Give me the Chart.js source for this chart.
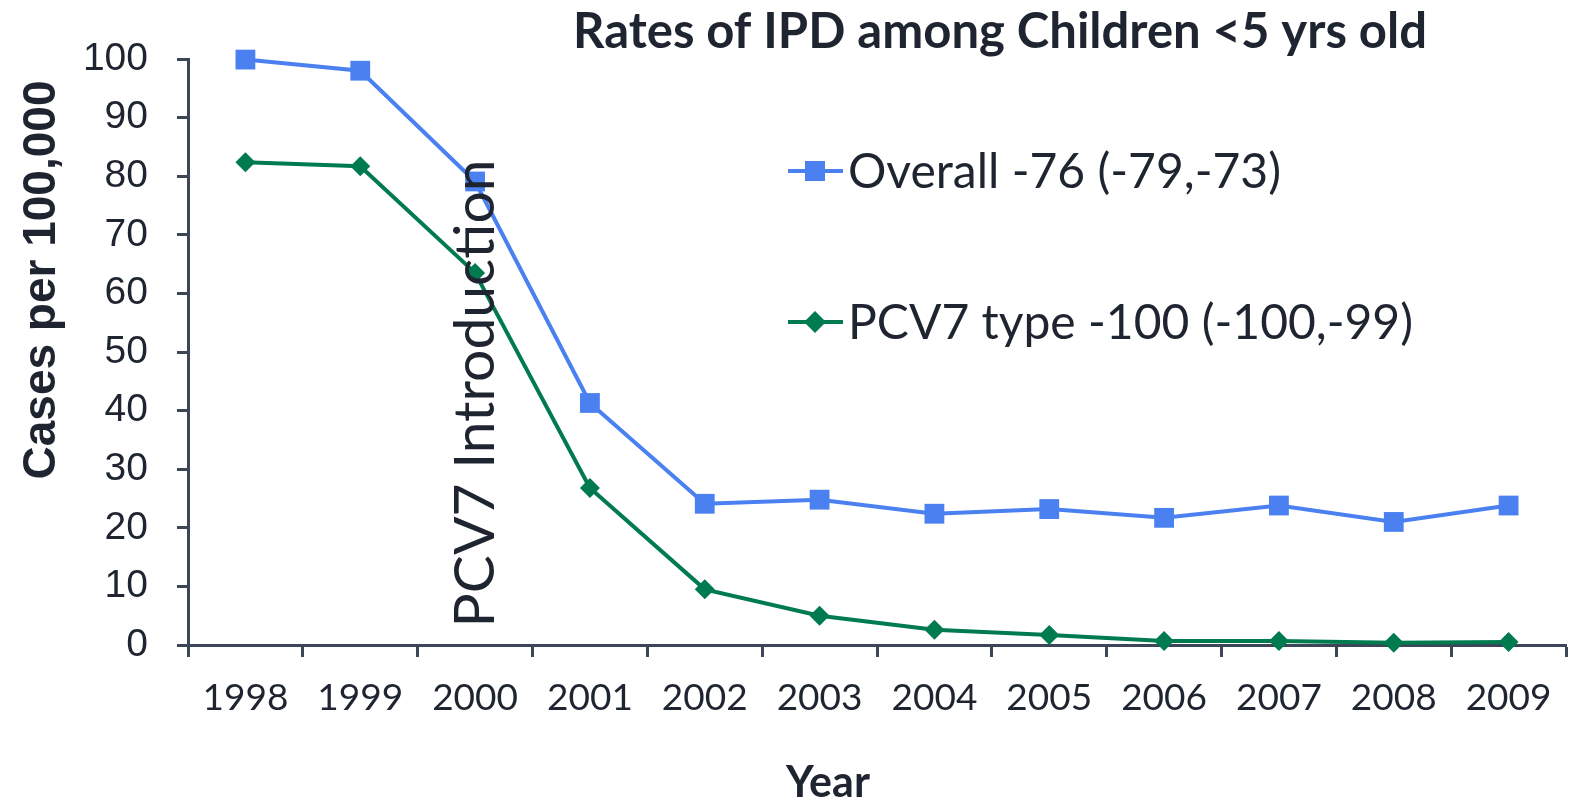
<!DOCTYPE html>
<html>
<head>
<meta charset="utf-8">
<title>Rates of IPD among Children &lt;5 yrs old</title>
<script src="https://cdn.jsdelivr.net/npm/chart.js"></script>
<style>
  html, body { margin: 0; padding: 0; background: #fff; }
  #wrap { width: 1580px; height: 804px; position: relative; }
</style>
</head>
<body>
<div id="wrap"><canvas id="ipdChart"></canvas></div>
<script>
// Data
const years = ['1998', '1999', '2000', '2001', '2002', '2003', '2004', '2005', '2006', '2007', '2008', '2009'];
const overall = [99.9, 98.0, 79.1, 41.3, 24.1, 24.8, 22.4, 23.2, 21.7, 23.8, 21.0, 23.8];
const pcv7 = [82.4, 81.7, 63.5, 26.8, 9.5, 5.0, 2.6, 1.7, 0.7, 0.7, 0.4, 0.5];
const seriesLabels = ['Overall -76 (-79,-73)', 'PCV7 type -100 (-100,-99)'];
const yTicks = [0, 10, 20, 30, 40, 50, 60, 70, 80, 90, 100];

const BLUE = '#4a80f0';
const GREEN = '#007a4f';
const TEXT = '#1f2530';
const AXIS = '#3c4657';

// Title, axis titles, legend and the PCV7 note are painted here
const textPlugin = {
    id: 'textPlugin',
    afterDraw(chart) {
        const ctx = chart.ctx;
        const x = chart.scales.x;
        const y = chart.scales.y;
        ctx.save();
        ctx.fillStyle = TEXT;

        // title
        ctx.font = 'bold 49px Lato';
        ctx.textAlign = 'center';
        ctx.textBaseline = 'alphabetic';
        ctx.fillText('Rates of IPD among Children <5 yrs old', 1000, 48);

        // x axis title
        ctx.font = 'bold 43px Lato';
        ctx.fillText('Year', 828, 797);

        // y axis title
        ctx.save();
        ctx.translate(55, 280);
        ctx.rotate(-Math.PI / 2);
        ctx.font = 'bold 46px "Liberation Sans"';
        ctx.textAlign = 'center';
        ctx.fillText('Cases per 100,000', 0, 0);
        ctx.restore();

        // PCV7 introduction note
        ctx.save();
        ctx.translate(x.getPixelForValue(2) + 19, y.getPixelForValue(3.0));
        ctx.rotate(-Math.PI / 2);
        ctx.font = '57px Lato';
        ctx.textAlign = 'left';
        ctx.fillText('PCV7 Introduction', 0, 0);
        ctx.restore();

        // legend
        const rows = [171, 322];
        chart.data.datasets.forEach((ds, i) => {
            const cy = rows[i];
            ctx.strokeStyle = ds.borderColor;
            ctx.lineWidth = 4;
            ctx.beginPath();
            ctx.moveTo(788, cy);
            ctx.lineTo(843, cy);
            ctx.stroke();
            ctx.fillStyle = ds.pointBackgroundColor;
            ctx.beginPath();
            if (ds.pointStyle === 'rect') {
                ctx.rect(805, cy - 10, 20, 20);
            } else {
                ctx.moveTo(815, cy - 11);
                ctx.lineTo(826, cy);
                ctx.lineTo(815, cy + 11);
                ctx.lineTo(804, cy);
                ctx.closePath();
            }
            ctx.fill();
            ctx.fillStyle = TEXT;
            ctx.font = '48px Lato';
            ctx.textAlign = 'left';
            ctx.textBaseline = 'middle';
            ctx.fillText(ds.label, 848, cy + 2);
        });
        ctx.restore();
    }
};

new Chart(document.getElementById('ipdChart'), {
    type: 'line',
    data: {
        labels: years,
        datasets: [
            {
                label: seriesLabels[0],
                data: overall,
                borderColor: BLUE,
                backgroundColor: BLUE,
                pointBackgroundColor: BLUE,
                pointBorderColor: BLUE,
                borderWidth: 4,
                pointStyle: 'rect',
                pointRadius: 14,
                pointBorderWidth: 0,
                tension: 0,
                clip: false
            },
            {
                label: seriesLabels[1],
                data: pcv7,
                borderColor: GREEN,
                backgroundColor: GREEN,
                pointBackgroundColor: GREEN,
                pointBorderColor: GREEN,
                borderWidth: 4,
                pointStyle: 'rectRot',
                pointRadius: 10,
                pointBorderWidth: 0,
                tension: 0,
                clip: false
            }
        ]
    },
    options: {
        responsive: true,
        maintainAspectRatio: false,
        animation: false,
        layout: { padding: { top: 59, right: 6, left: 0, bottom: 0 } },
        plugins: {
            legend: { display: false },
            title: { display: false },
            tooltip: { enabled: false }
        },
        scales: {
            x: {
                type: 'category',
                offset: true,
                afterFit(scale) { scale.height = 159; },
                grid: {
                    offset: true,
                    drawOnChartArea: false,
                    drawTicks: true,
                    tickLength: 12,
                    tickWidth: 3,
                    tickColor: AXIS
                },
                border: { display: true, color: AXIS, width: 3 },
                ticks: {
                    color: TEXT,
                    padding: 19,
                    maxRotation: 0,
                    font: { family: 'Lato', size: 37 }
                }
            },
            y: {
                min: 0,
                max: 100,
                afterFit(scale) { scale.width = 188; },
                afterBuildTicks(scale) { scale.ticks = yTicks.map(v => ({ value: v })); },
                grid: {
                    drawOnChartArea: false,
                    drawTicks: true,
                    tickLength: 11,
                    tickWidth: 3,
                    tickColor: AXIS
                },
                border: { display: true, color: AXIS, width: 3 },
                ticks: {
                    color: TEXT,
                    padding: 29,
                    font: { family: 'Liberation Sans', size: 39 }
                }
            }
        }
    },
    plugins: [textPlugin]
});
</script>
</body>
</html>
